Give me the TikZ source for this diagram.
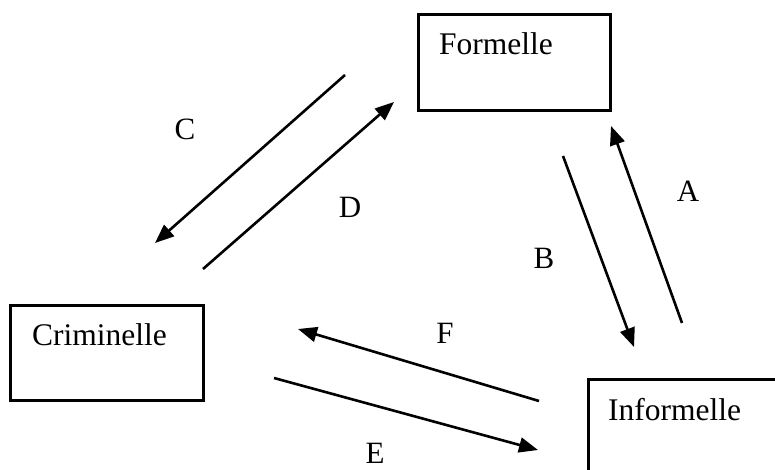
\documentclass[tikz,border=0pt]{standalone}
\usepackage{fontspec}
\setmainfont{Liberation Serif}
\usetikzlibrary{arrows.meta}
\begin{document}
\begin{tikzpicture}[x=1pt,y=-1pt,
  box/.style={draw,line width=3pt,rectangle,inner sep=0pt},
  txt/.style={font=\fontsize{31.5}{36}\selectfont,inner sep=0pt,anchor=base west},
  lbl/.style={font=\fontsize{31}{36}\selectfont,inner sep=0pt,anchor=base},
  conn/.style={line width=2.6pt,-{Triangle[length=19pt,width=15pt]}}]
\useasboundingbox (0,0) rectangle (775,470);
\clip (0,0) rectangle (775,470);
\fill[white] (0,0) rectangle (775,470);
% boxes
\node[box,minimum width=192pt,minimum height=96pt] (formbox) at (514,63) {};
\node[box,minimum width=193pt,minimum height=95pt] (crimbox) at (106.5,352.5) {};
\node[box,minimum width=250pt,minimum height=160pt,anchor=north west] (infbox) at (587,378) {};
% box texts
\node[txt] (form) at (439,55) {Formelle};
\node[txt] (crim) at (32,345) {Criminelle};
\node[txt] (inf) at (608,420) {Informelle};
% arrow end points
\coordinate (c1) at (345,75);  \coordinate (c2) at (155,243);
\coordinate (d1) at (203,269); \coordinate (d2) at (394,102);
\coordinate (b1) at (563,156); \coordinate (b2) at (634,347);
\coordinate (a1) at (682,323); \coordinate (a2) at (611,126);
\coordinate (f1) at (539,401); \coordinate (f2) at (298,329);
\coordinate (e1) at (274,378); \coordinate (e2) at (538,450);
\draw[conn] (c1) -- (c2);
\draw[conn] (d1) -- (d2);
\draw[conn] (b1) -- (b2);
\draw[conn] (a1) -- (a2);
\draw[conn] (f1) -- (f2);
\draw[conn] (e1) -- (e2);
% labels
\node[lbl] (lC) at (185,140) {C};
\node[lbl] (lD) at (350,218) {D};
\node[lbl] (lA) at (688,202) {A};
\node[lbl] (lB) at (544,268) {B};
\node[lbl] (lF) at (445,343) {F};
\node[lbl] (lE) at (375,463) {E};
\end{tikzpicture}
\end{document}
